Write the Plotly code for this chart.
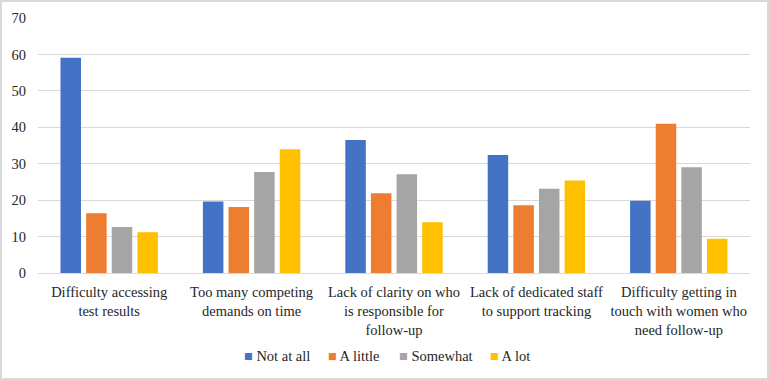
import plotly.graph_objects as go

categories = [
    "Difficulty accessing<br>test results",
    "Too many competing<br>demands on time",
    "Lack of clarity on who<br>is responsible for<br>follow-up",
    "Lack of dedicated staff<br>to support tracking",
    "Difficulty getting in<br>touch with women who<br>need follow-up",
]
not_at_all = [59.1, 19.6, 36.5, 32.4, 19.8]
a_little = [16.4, 18.1, 21.9, 18.6, 41.0]
somewhat = [12.6, 27.7, 27.1, 23.1, 29.0]
a_lot = [11.2, 34.0, 13.9, 25.4, 9.4]

series = [
    ("Not at all", not_at_all, "#4472C4"),
    ("A little", a_little, "#ED7D31"),
    ("Somewhat", somewhat, "#A5A5A5"),
    ("A lot", a_lot, "#FFC000"),
]

W, H = 769, 380
ML, MR, MT, MB = 38, 19, 18, 107
PW, PH = W - ML - MR, H - MT - MB

FAM = "Liberation Serif"
font = dict(family=FAM, size=14.5, color="#262626")

fig = go.Figure()
for name, vals, color in series:
    fig.add_trace(go.Bar(x=categories, y=vals, name=name, marker_color=color,
                         marker_line_width=0, showlegend=False))

# legend drawn as text items (compact, Excel-like spacing)
legend_x = [242, 326, 397, 488]
annotations = []
for (name, vals, color), px in zip(series, legend_x):
    annotations.append(dict(
        xref="paper", yref="paper",
        x=(px - ML) / PW, y=(MT + PH - 356) / PH,
        xanchor="left", yanchor="middle", showarrow=False,
        text=f"<span style='color:{color}'>■</span> {name}",
        font=font,
    ))

fig.update_layout(
    width=W, height=H,
    margin=dict(l=ML, r=MR, t=MT, b=MB, pad=0, autoexpand=False),
    paper_bgcolor="white", plot_bgcolor="white",
    font=font,
    barmode="group", bargap=0.28, bargroupgap=0.2,
    xaxis=dict(showgrid=False, showline=True, linecolor="#D9D9D9", linewidth=1,
               ticks="", tickfont=font, fixedrange=True, automargin=False,
               ticklabelstandoff=6),
    yaxis=dict(range=[0, 70], dtick=10, showgrid=True, gridcolor="#D9D9D9", gridwidth=1,
               zeroline=False, showline=False, ticks="", tickfont=font,
               ticklabelstandoff=11, automargin=False, fixedrange=True),
    annotations=annotations,
    shapes=[dict(type="rect", xref="paper", yref="paper",
                 x0=-(ML - 1) / PW, x1=1 + (MR - 1) / PW,
                 y0=-(MB - 1) / PH, y1=1 + (MT - 1) / PH,
                 line=dict(color="#D9D9D9", width=2), layer="below")],
)

fig.write_html("out.html", config={"displayModeBar": False},
               post_script="document.body.style.margin='0';")
